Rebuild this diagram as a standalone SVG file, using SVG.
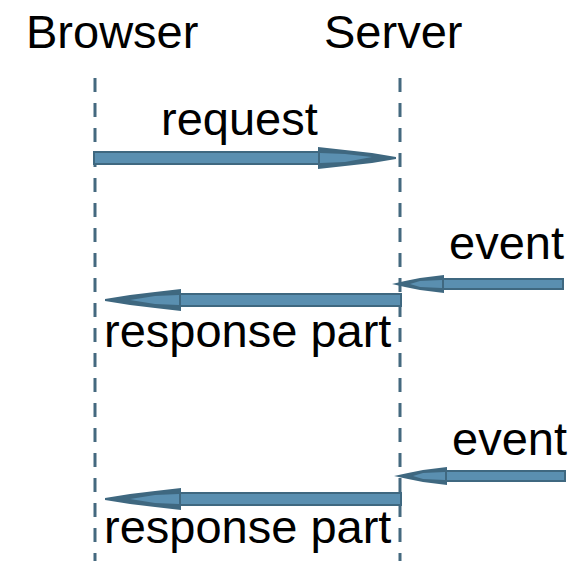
<svg xmlns="http://www.w3.org/2000/svg" width="588" height="561" viewBox="0 0 588 561">
<style>
.lbl{font-family:"Liberation Sans",Arial,Helvetica,sans-serif;font-size:47px;fill:#000}
.life{stroke:#44697f;stroke-width:3;stroke-dasharray:14 11;fill:none}
.shaft{fill:#5a8fb0;stroke:#3f6880;stroke-width:2}
.head{fill:#3f6880}
.inner{fill:#5a8fb0}
</style>
<rect width="588" height="561" fill="#fff"/>
<g id="browser">
<text class="lbl" x="26" y="48">Browser</text>
<line class="life" x1="95" y1="78" x2="95" y2="561"/>
</g>
<g id="server">
<text class="lbl" x="324" y="48">Server</text>
<line class="life" x1="400" y1="78" x2="400" y2="561"/>
</g>
<g id="connectors">
<g id="request">
<rect class="shaft" x="94" y="152" width="228" height="12"/>
<polygon class="head" points="318,147 345,150 372,153 396,157 396,159 372,163 345,166 318,169"/>
<polygon class="inner" points="320,153 345,154 372,157 345,162 320,163"/>
<text class="lbl" x="161" y="135">request</text>
</g>
<g id="event1">
<rect class="shaft" x="440" y="279" width="123" height="10"/>
<polygon class="head" points="444,275 420,278 405,281 392,284 405,287 420,290 444,293"/>
<polygon class="inner" points="442,280 420,281 410,284 420,287 442,288"/>
<text class="lbl" x="449" y="259">event</text>
</g>
<g id="response1">
<rect class="shaft" x="178" y="294" width="223" height="12"/>
<polygon class="head" points="181,289 155,292 130,295 105,299 105,301 130,305 155,308 181,311"/>
<polygon class="inner" points="179,295 155,296 130,300 155,304 179,305"/>
<text class="lbl" x="104" y="347">response part</text>
</g>
<g id="event2">
<rect class="shaft" x="443" y="471" width="122" height="10"/>
<polygon class="head" points="447,467 423,470 408,473 394,476 408,479 423,482 447,485"/>
<polygon class="inner" points="445,472 423,473 413,476 423,479 445,480"/>
<text class="lbl" x="452" y="455">event</text>
</g>
<g id="response2">
<rect class="shaft" x="178" y="493" width="223" height="12"/>
<polygon class="head" points="181,488 155,491 130,494 105,498 105,500 130,504 155,507 181,510"/>
<polygon class="inner" points="179,494 155,495 130,499 155,503 179,504"/>
<text class="lbl" x="104" y="543">response part</text>
</g>
</g>
</svg>
